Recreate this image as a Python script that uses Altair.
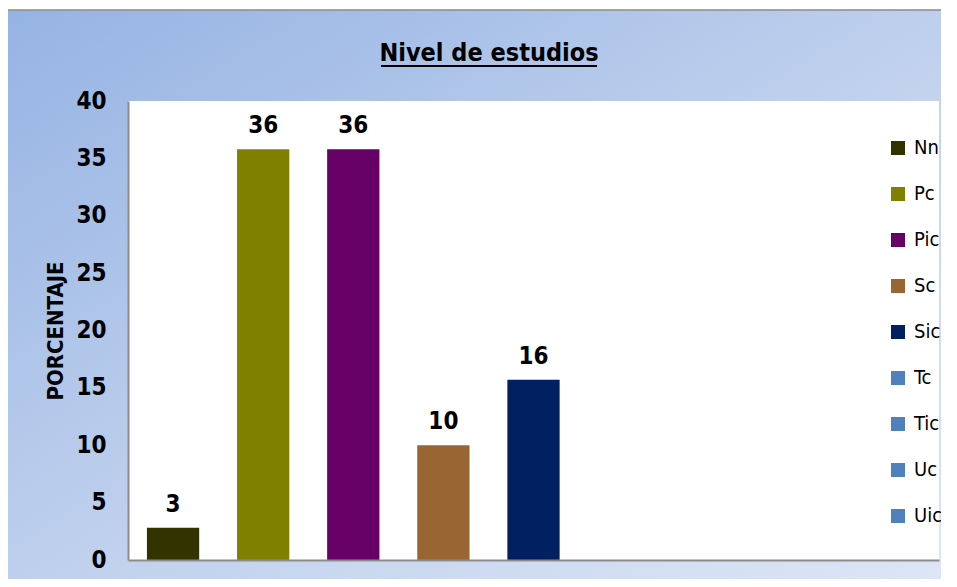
import altair as alt
import pandas as pd

categories = ["Nn", "Pc", "Pic", "Sc", "Sic", "Tc", "Tic", "Uc", "Uic"]
values = [2.8, 35.8, 35.8, 10.0, 15.7, 0, 0, 0, 0]
colors = ["#333300", "#808000", "#660066", "#996633", "#002060",
          "#4f81bd", "#4f81bd", "#4f81bd", "#4f81bd"]
y_ticks = [0, 5, 10, 15, 20, 25, 30, 35, 40]
title_text = ["Nivel de estudios"]
y_title = "PORCENTAJE"

df = pd.DataFrame({"cat": categories, "val": values})

FONT = "'Liberation Sans Narrow', 'Arial Narrow', 'DejaVu Sans Condensed', sans-serif"
W, H = 811, 459

xenc = alt.X("cat:N", sort=categories,
             scale=alt.Scale(paddingInner=0.42, paddingOuter=0.21),
             axis=alt.Axis(labels=False, ticks=False, title=None, domainColor="#8c8c8c",
                           domainWidth=2, zindex=1))
yscale = alt.Scale(domain=[0, 40])

one = pd.DataFrame({"k": [0]})

bg = alt.Chart(one).mark_rect(
    fill=alt.LinearGradient(gradient="linear", x1=0, y1=0, x2=1, y2=1,
                            stops=[alt.GradientStop(color="#95b3e3", offset=0),
                                   alt.GradientStop(color="#c3d3ee", offset=0.55),
                                   alt.GradientStop(color="#dfe7f6", offset=1)]),
    stroke="#8c8c8c", strokeWidth=1.5
).encode(x=alt.value(-123), x2=alt.value(W + 30), y=alt.value(-91), y2=alt.value(H + 40))

plotbg = alt.Chart(one).mark_rect(fill="white").encode(
    x=alt.value(0), x2=alt.value(W), y=alt.value(0), y2=alt.value(H))

title = alt.Chart(pd.DataFrame({"t": title_text})).mark_text(
    font=FONT, fontSize=25, fontWeight="bold", color="black",
    align="center", baseline="alphabetic"
).encode(x=alt.value(361), y=alt.value(-40), text="t:N")

underline = alt.Chart(one).mark_rule(color="black", strokeWidth=2).encode(
    x=alt.value(253), x2=alt.value(469), y=alt.value(-35))

bars = alt.Chart(df).mark_bar().encode(
    x=xenc,
    y=alt.Y("val:Q", scale=yscale,
            axis=alt.Axis(values=y_ticks, ticks=False, grid=False, title=y_title,
                          domainColor="#8c8c8c", domainWidth=2,
                          labelFont=FONT, labelFontSize=24, labelFontWeight="bold",
                          labelColor="black", labelPadding=22,
                          titleFont=FONT, titleFontSize=22, titleFontWeight="bold",
                          titleColor="black", titlePadding=8, zindex=1)),
    color=alt.Color("cat:N", sort=categories,
                    scale=alt.Scale(domain=categories, range=colors),
                    legend=alt.Legend(title=None, orient="none", legendX=760, legendY=37,
                                      symbolType="square", symbolSize=196,
                                      symbolStrokeWidth=0, labelFont=FONT,
                                      labelFontSize=20, labelColor="black",
                                      labelOffset=6, rowPadding=26, zindex=1,
                                      padding=0, labelLimit=60))
)

labels = alt.Chart(df).transform_filter("datum.val > 0").mark_text(
    font=FONT, fontSize=24, fontWeight="bold", color="black",
    baseline="alphabetic", dy=-16
).encode(x=alt.X("cat:N", sort=categories), y=alt.Y("val:Q", scale=yscale),
         text=alt.Text("val:Q", format=".0f"))

chart = alt.layer(bg, plotbg, title, underline, bars, labels).properties(
    width=W, height=H,
    autosize=alt.AutoSizeParams(type="none"),
    padding={"left": 120, "top": 93, "right": 2, "bottom": 19},
    background="white"
).configure_view(stroke=None, fill=None)

chart.save("out.html", embed_options={"renderer": "svg", "actions": False})
